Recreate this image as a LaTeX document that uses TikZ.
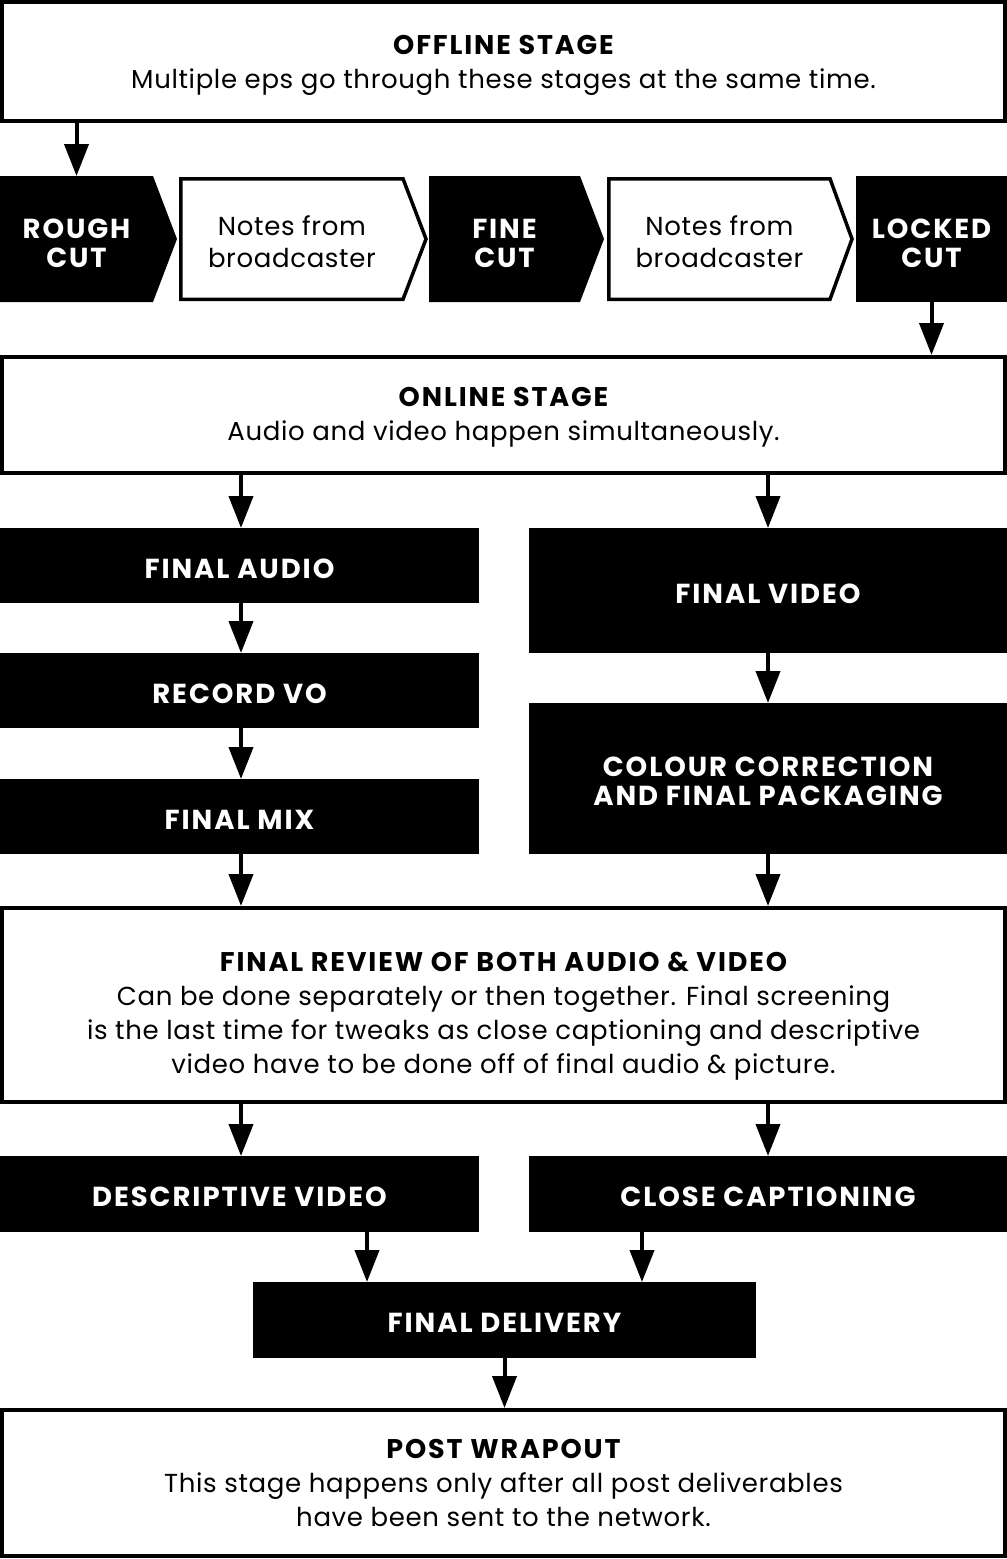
\documentclass[tikz,border=0pt]{standalone}
\usepackage{fontspec}
\setmainfont{Poppins}
\newfontfamily\hdfont[LetterSpace=7]{Poppins}
\newfontfamily\bodyfont[LetterSpace=2.5]{Poppins}
\newcommand\dnstrut[1]{\rule{0pt}{#1pt}}
\usetikzlibrary{arrows.meta,backgrounds}
\tikzset{
  arr/.style={line width=4pt,-{Triangle[width=24pt,length=32pt]}},
  wbox/.style={draw,line width=4pt,fill=white,inner sep=0pt,align=center,
    font=\bodyfont\fontsize{26}{34}\selectfont},
  bbox/.style={fill=black,text=white,inner sep=0pt,outer sep=0pt,align=center,
    font=\hdfont\bfseries\fontsize{27.5}{29}\selectfont},
  chev/.style={text=white,inner sep=0pt,outer sep=0pt,align=center,
    font=\hdfont\bfseries\fontsize{27.5}{29}\selectfont,minimum height=126pt},
  notes/.style={inner sep=0pt,outer sep=0pt,align=center,
    font=\bodyfont\fontsize{26}{32}\selectfont,minimum height=120.5pt},
}
\newcommand\ttl[1]{{\hdfont\bfseries\fontsize{27}{34}\selectfont #1}}
\begin{document}
\begin{tikzpicture}[x=1pt,y=-1pt]
\useasboundingbox (0,0) rectangle (1007,1559);

% stage boxes
\node[wbox,minimum width=1003pt,minimum height=119pt] (offline) at (503.5,61.5)
  {\dnstrut{26.5}\ttl{OFFLINE STAGE}\\Multiple eps go through these stages at the same time.};
\node[wbox,minimum width=1003pt,minimum height=116pt] (online) at (503.5,415)
  {\dnstrut{23.5}\ttl{ONLINE STAGE}\\Audio and video happen simultaneously.};
\node[wbox,minimum width=1003pt,minimum height=194pt] (review) at (503.5,1005)
  {\dnstrut{41}\ttl{FINAL REVIEW OF BOTH AUDIO \& VIDEO}\\Can be done separately or then together. Final screening\\is the last time for tweaks as close captioning and descriptive\\video have to be done off of final audio \& picture.};
\node[wbox,minimum width=1003pt,minimum height=146pt] (post) at (503.5,1483)
  {\ttl{POST WRAPOUT}\\This stage happens only after all post deliverables\\have been sent to the network.};

% chevron row
\node[chev,minimum width=153pt] (rough) at (76.5,239) {\dnstrut{27.5}ROUGH\\CUT};
\node[notes,minimum width=222.25pt] (n1) at (291.9,239) {\dnstrut{25.5}Notes from\\broadcaster};
\node[chev,minimum width=151pt] (fine) at (504.5,239) {\dnstrut{27.5}FINE\\CUT};
\node[notes,minimum width=221.25pt] (n2) at (719.4,239) {\dnstrut{25.5}Notes from\\broadcaster};
\node[chev,minimum width=151pt] (locked) at (931.5,239) {\dnstrut{27.5}LOCKED\\CUT};

\begin{scope}[on background layer]
  \fill (rough.north west) -- (rough.north east) -- ([xshift=24pt]rough.east)
    -- (rough.south east) -- (rough.south west) -- cycle;
  \fill (fine.north west) -- (fine.north east) -- ([xshift=24pt]fine.east)
    -- (fine.south east) -- (fine.south west) -- cycle;
  \fill (locked.north west) rectangle (locked.south east);
  \draw[line width=3.5pt,line join=miter] (n1.north west) -- (n1.north east)
    -- ([xshift=23pt]n1.east) -- (n1.south east) -- (n1.south west) -- cycle;
  \draw[line width=3.5pt,line join=miter] (n2.north west) -- (n2.north east)
    -- ([xshift=22pt]n2.east) -- (n2.south east) -- (n2.south west) -- cycle;
\end{scope}

% black boxes
\node[bbox,minimum width=479pt,minimum height=75pt] (faudio) at (239.5,565.5) {\dnstrut{26}FINAL AUDIO};
\node[bbox,minimum width=479pt,minimum height=75pt] (recvo) at (239.5,690.5) {\dnstrut{26}RECORD VO};
\node[bbox,minimum width=479pt,minimum height=75pt] (fmix) at (239.5,816.5) {\dnstrut{26}FINAL MIX};
\node[bbox,minimum width=478pt,minimum height=125pt] (fvideo) at (768,590.5) {\dnstrut{26}FINAL VIDEO};
\node[bbox,minimum width=478pt,minimum height=151pt] (colour) at (768,778.5) {\dnstrut{26}COLOUR CORRECTION\\AND FINAL PACKAGING};
\node[bbox,minimum width=479pt,minimum height=76pt] (desc) at (239.5,1194) {\dnstrut{25}DESCRIPTIVE VIDEO};
\node[bbox,minimum width=478pt,minimum height=76pt] (close) at (768,1194) {\dnstrut{25}CLOSE CAPTIONING};
\node[bbox,minimum width=503pt,minimum height=76pt] (deliv) at (504.5,1320) {\dnstrut{25}FINAL DELIVERY};

\coordinate (xl) at (241,0);
\coordinate (xr) at (768,0);
\coordinate (xd) at (367,0);
\coordinate (xc) at (642,0);

% connectors
\draw[arr] (offline.south -| rough) -- (rough.north);
\draw[arr] (locked.south) -- (online.north -| locked);
\draw[arr] (online.south -| xl) -- (faudio.north -| xl);
\draw[arr] (online.south -| xr) -- (fvideo.north -| xr);
\draw[arr] (faudio.south -| xl) -- (recvo.north -| xl);
\draw[arr] (recvo.south -| xl) -- (fmix.north -| xl);
\draw[arr] (fvideo.south -| xr) -- (colour.north -| xr);
\draw[arr] (fmix.south -| xl) -- (review.north -| xl);
\draw[arr] (colour.south -| xr) -- (review.north -| xr);
\draw[arr] (review.south -| xl) -- (desc.north -| xl);
\draw[arr] (review.south -| xr) -- (close.north -| xr);
\draw[arr] (desc.south -| xd) -- (deliv.north -| xd);
\draw[arr] (close.south -| xc) -- (deliv.north -| xc);
\draw[arr] (deliv.south) -- (post.north -| deliv);
\end{tikzpicture}
\end{document}
